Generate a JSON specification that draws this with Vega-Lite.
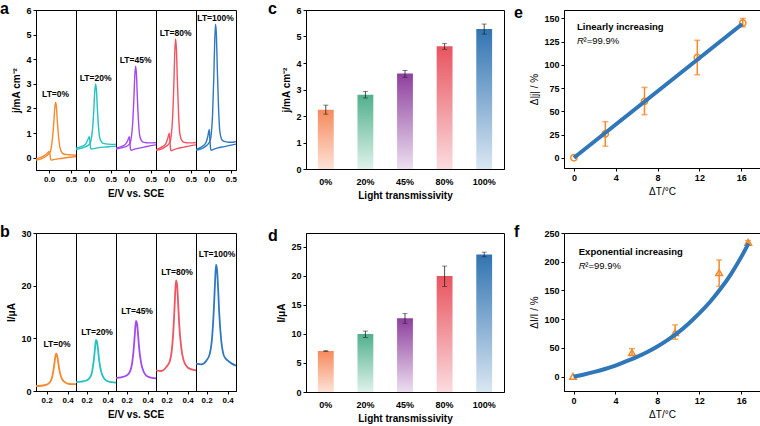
{
"$schema":"https://vega.github.io/schema/vega-lite/v6.json",
"padding":{"left":0,"top":0,"right":0,"bottom":0},
"background":"white",
"config":{
 "font":"Liberation Sans",
 "view":{"stroke":"black","strokeWidth":1},
 "axis":{"domainColor":"black","tickColor":"black","labelColor":"black","titleColor":"black","labelFontWeight":"bold","labelFontSize":9,"titleFontSize":10,"titleFontWeight":"bold","tickSize":3,"grid":false,"labelPadding":2,"titlePadding":4,"labelOverlap":false,"tickCount":30},
 "title":{"fontSize":16,"fontWeight":"bold","anchor":"start","frame":"group","color":"black","baseline":"alphabetic"}
},
"datasets":{
"a":[
{"p":1,"s":"u","x":-0.3,"y":-0.1},{"p":1,"s":"u","x":-0.18,"y":-0.05},{"p":1,"s":"u","x":-0.08,"y":0.05},{"p":1,"s":"u","x":-0.01,"y":0.15},{"p":1,"s":"u","x":0.03,"y":0.25},{"p":1,"s":"u","x":0.05,"y":0.4},{"p":1,"s":"u","x":0.08,"y":0.8},{"p":1,"s":"u","x":0.11,"y":1.45},{"p":1,"s":"u","x":0.13,"y":1.98},{"p":1,"s":"u","x":0.15,"y":2.25},{"p":1,"s":"u","x":0.17,"y":2.05},{"p":1,"s":"u","x":0.19,"y":1.5},{"p":1,"s":"u","x":0.22,"y":0.85},{"p":1,"s":"u","x":0.25,"y":0.42},{"p":1,"s":"u","x":0.3,"y":0.2},{"p":1,"s":"u","x":0.35,"y":0.14},{"p":1,"s":"u","x":0.45,"y":0.12},{"p":1,"s":"u","x":0.55,"y":0.11},{"p":1,"s":"u","x":0.62,"y":0.1},
{"p":1,"s":"l","x":-0.3,"y":-0.05},{"p":1,"s":"l","x":-0.18,"y":0.02},{"p":1,"s":"l","x":-0.08,"y":0.12},{"p":1,"s":"l","x":-0.03,"y":0.2},{"p":1,"s":"l","x":0.005,"y":0.25},{"p":1,"s":"l","x":0.02,"y":0.15},{"p":1,"s":"l","x":0.035,"y":-0.05},{"p":1,"s":"l","x":0.05,"y":-0.1},{"p":1,"s":"l","x":0.1,"y":-0.08},{"p":1,"s":"l","x":0.2,"y":-0.05},{"p":1,"s":"l","x":0.35,"y":-0.01},{"p":1,"s":"l","x":0.48,"y":0.02},{"p":1,"s":"l","x":0.62,"y":0.05},
{"p":2,"s":"u","x":-0.3,"y":0.33},{"p":2,"s":"u","x":-0.18,"y":0.38},{"p":2,"s":"u","x":-0.08,"y":0.45},{"p":2,"s":"u","x":-0.01,"y":0.52},{"p":2,"s":"u","x":0.03,"y":0.6},{"p":2,"s":"u","x":0.05,"y":0.75},{"p":2,"s":"u","x":0.08,"y":1.15},{"p":2,"s":"u","x":0.11,"y":1.95},{"p":2,"s":"u","x":0.13,"y":2.65},{"p":2,"s":"u","x":0.15,"y":3.0},{"p":2,"s":"u","x":0.17,"y":2.75},{"p":2,"s":"u","x":0.19,"y":2.05},{"p":2,"s":"u","x":0.22,"y":1.2},{"p":2,"s":"u","x":0.25,"y":0.78},{"p":2,"s":"u","x":0.3,"y":0.62},{"p":2,"s":"u","x":0.35,"y":0.57},{"p":2,"s":"u","x":0.45,"y":0.55},{"p":2,"s":"u","x":0.55,"y":0.54},{"p":2,"s":"u","x":0.62,"y":0.55},
{"p":2,"s":"l","x":-0.3,"y":0.38},{"p":2,"s":"l","x":-0.18,"y":0.45},{"p":2,"s":"l","x":-0.08,"y":0.55},{"p":2,"s":"l","x":-0.03,"y":0.72},{"p":2,"s":"l","x":0.005,"y":0.85},{"p":2,"s":"l","x":0.02,"y":0.65},{"p":2,"s":"l","x":0.035,"y":0.4},{"p":2,"s":"l","x":0.05,"y":0.35},{"p":2,"s":"l","x":0.1,"y":0.37},{"p":2,"s":"l","x":0.2,"y":0.4},{"p":2,"s":"l","x":0.35,"y":0.43},{"p":2,"s":"l","x":0.48,"y":0.45},{"p":2,"s":"l","x":0.62,"y":0.47},
{"p":3,"s":"u","x":-0.3,"y":0.35},{"p":3,"s":"u","x":-0.18,"y":0.4},{"p":3,"s":"u","x":-0.08,"y":0.45},{"p":3,"s":"u","x":-0.01,"y":0.52},{"p":3,"s":"u","x":0.03,"y":0.62},{"p":3,"s":"u","x":0.05,"y":0.8},{"p":3,"s":"u","x":0.08,"y":1.3},{"p":3,"s":"u","x":0.11,"y":2.35},{"p":3,"s":"u","x":0.13,"y":3.25},{"p":3,"s":"u","x":0.15,"y":3.72},{"p":3,"s":"u","x":0.17,"y":3.4},{"p":3,"s":"u","x":0.19,"y":2.5},{"p":3,"s":"u","x":0.22,"y":1.4},{"p":3,"s":"u","x":0.25,"y":0.85},{"p":3,"s":"u","x":0.3,"y":0.66},{"p":3,"s":"u","x":0.35,"y":0.62},{"p":3,"s":"u","x":0.45,"y":0.6},{"p":3,"s":"u","x":0.55,"y":0.6},{"p":3,"s":"u","x":0.62,"y":0.62},
{"p":3,"s":"l","x":-0.3,"y":0.38},{"p":3,"s":"l","x":-0.18,"y":0.45},{"p":3,"s":"l","x":-0.08,"y":0.55},{"p":3,"s":"l","x":-0.03,"y":0.7},{"p":3,"s":"l","x":0.005,"y":0.85},{"p":3,"s":"l","x":0.02,"y":0.6},{"p":3,"s":"l","x":0.035,"y":0.35},{"p":3,"s":"l","x":0.05,"y":0.3},{"p":3,"s":"l","x":0.1,"y":0.33},{"p":3,"s":"l","x":0.2,"y":0.38},{"p":3,"s":"l","x":0.35,"y":0.43},{"p":3,"s":"l","x":0.48,"y":0.48},{"p":3,"s":"l","x":0.62,"y":0.52},
{"p":4,"s":"u","x":-0.3,"y":0.3},{"p":4,"s":"u","x":-0.18,"y":0.35},{"p":4,"s":"u","x":-0.08,"y":0.45},{"p":4,"s":"u","x":-0.01,"y":0.55},{"p":4,"s":"u","x":0.03,"y":0.68},{"p":4,"s":"u","x":0.05,"y":0.9},{"p":4,"s":"u","x":0.08,"y":1.55},{"p":4,"s":"u","x":0.11,"y":2.95},{"p":4,"s":"u","x":0.13,"y":4.2},{"p":4,"s":"u","x":0.15,"y":4.82},{"p":4,"s":"u","x":0.17,"y":4.4},{"p":4,"s":"u","x":0.19,"y":3.2},{"p":4,"s":"u","x":0.22,"y":1.75},{"p":4,"s":"u","x":0.25,"y":0.95},{"p":4,"s":"u","x":0.3,"y":0.68},{"p":4,"s":"u","x":0.35,"y":0.62},{"p":4,"s":"u","x":0.45,"y":0.6},{"p":4,"s":"u","x":0.55,"y":0.6},{"p":4,"s":"u","x":0.62,"y":0.62},
{"p":4,"s":"l","x":-0.3,"y":0.32},{"p":4,"s":"l","x":-0.18,"y":0.42},{"p":4,"s":"l","x":-0.08,"y":0.55},{"p":4,"s":"l","x":-0.03,"y":0.78},{"p":4,"s":"l","x":0.005,"y":1.0},{"p":4,"s":"l","x":0.02,"y":0.7},{"p":4,"s":"l","x":0.035,"y":0.35},{"p":4,"s":"l","x":0.05,"y":0.28},{"p":4,"s":"l","x":0.1,"y":0.32},{"p":4,"s":"l","x":0.2,"y":0.38},{"p":4,"s":"l","x":0.35,"y":0.43},{"p":4,"s":"l","x":0.48,"y":0.48},{"p":4,"s":"l","x":0.62,"y":0.52},
{"p":5,"s":"u","x":-0.3,"y":0.3},{"p":5,"s":"u","x":-0.18,"y":0.36},{"p":5,"s":"u","x":-0.08,"y":0.46},{"p":5,"s":"u","x":-0.01,"y":0.58},{"p":5,"s":"u","x":0.03,"y":0.72},{"p":5,"s":"u","x":0.05,"y":0.95},{"p":5,"s":"u","x":0.08,"y":1.7},{"p":5,"s":"u","x":0.11,"y":3.3},{"p":5,"s":"u","x":0.13,"y":4.7},{"p":5,"s":"u","x":0.15,"y":5.42},{"p":5,"s":"u","x":0.17,"y":4.95},{"p":5,"s":"u","x":0.19,"y":3.6},{"p":5,"s":"u","x":0.22,"y":1.95},{"p":5,"s":"u","x":0.25,"y":1.05},{"p":5,"s":"u","x":0.3,"y":0.72},{"p":5,"s":"u","x":0.35,"y":0.66},{"p":5,"s":"u","x":0.45,"y":0.63},{"p":5,"s":"u","x":0.55,"y":0.63},{"p":5,"s":"u","x":0.62,"y":0.66},
{"p":5,"s":"l","x":-0.3,"y":0.33},{"p":5,"s":"l","x":-0.18,"y":0.43},{"p":5,"s":"l","x":-0.08,"y":0.58},{"p":5,"s":"l","x":-0.03,"y":0.85},{"p":5,"s":"l","x":0.005,"y":1.15},{"p":5,"s":"l","x":0.02,"y":0.75},{"p":5,"s":"l","x":0.035,"y":0.38},{"p":5,"s":"l","x":0.05,"y":0.3},{"p":5,"s":"l","x":0.1,"y":0.34},{"p":5,"s":"l","x":0.2,"y":0.4},{"p":5,"s":"l","x":0.35,"y":0.45},{"p":5,"s":"l","x":0.48,"y":0.5},{"p":5,"s":"l","x":0.62,"y":0.55},
{"p":1,"lab":"LT=0%","x":0.15,"y":2.6},{"p":2,"lab":"LT=20%","x":0.15,"y":3.25},{"p":3,"lab":"LT=45%","x":0.15,"y":3.95},{"p":4,"lab":"LT=80%","x":0.15,"y":5.05},{"p":5,"lab":"LT=100%","x":0.15,"y":5.68}
],
"b":[
{"p":1,"s":"u","x":0.1,"y":0.95},{"p":1,"s":"u","x":0.15,"y":1.0},{"p":1,"s":"u","x":0.2,"y":1.2},{"p":1,"s":"u","x":0.23,"y":1.6},{"p":1,"s":"u","x":0.25,"y":2.4},{"p":1,"s":"u","x":0.27,"y":4.5},{"p":1,"s":"u","x":0.28,"y":6.0},{"p":1,"s":"u","x":0.29,"y":7.1},{"p":1,"s":"u","x":0.3,"y":6.8},{"p":1,"s":"u","x":0.31,"y":5.6},{"p":1,"s":"u","x":0.32,"y":4.2},{"p":1,"s":"u","x":0.34,"y":2.6},{"p":1,"s":"u","x":0.36,"y":1.9},{"p":1,"s":"u","x":0.38,"y":1.6},{"p":1,"s":"u","x":0.4,"y":1.4},{"p":1,"s":"u","x":0.44,"y":1.3},{"p":1,"s":"u","x":0.48,"y":1.3},
{"p":2,"s":"u","x":0.1,"y":1.7},{"p":2,"s":"u","x":0.15,"y":1.78},{"p":2,"s":"u","x":0.2,"y":2.0},{"p":2,"s":"u","x":0.23,"y":2.5},{"p":2,"s":"u","x":0.25,"y":3.4},{"p":2,"s":"u","x":0.27,"y":6.0},{"p":2,"s":"u","x":0.28,"y":8.0},{"p":2,"s":"u","x":0.29,"y":9.7},{"p":2,"s":"u","x":0.3,"y":9.3},{"p":2,"s":"u","x":0.31,"y":7.7},{"p":2,"s":"u","x":0.32,"y":5.8},{"p":2,"s":"u","x":0.34,"y":3.6},{"p":2,"s":"u","x":0.36,"y":2.6},{"p":2,"s":"u","x":0.38,"y":2.1},{"p":2,"s":"u","x":0.4,"y":1.85},{"p":2,"s":"u","x":0.44,"y":1.68},{"p":2,"s":"u","x":0.48,"y":1.6},
{"p":3,"s":"u","x":0.1,"y":2.5},{"p":3,"s":"u","x":0.15,"y":2.6},{"p":3,"s":"u","x":0.2,"y":2.95},{"p":3,"s":"u","x":0.23,"y":3.6},{"p":3,"s":"u","x":0.25,"y":4.9},{"p":3,"s":"u","x":0.27,"y":8.4},{"p":3,"s":"u","x":0.28,"y":11.1},{"p":3,"s":"u","x":0.29,"y":13.3},{"p":3,"s":"u","x":0.3,"y":12.8},{"p":3,"s":"u","x":0.31,"y":10.6},{"p":3,"s":"u","x":0.32,"y":8.1},{"p":3,"s":"u","x":0.34,"y":5.2},{"p":3,"s":"u","x":0.36,"y":3.8},{"p":3,"s":"u","x":0.38,"y":3.1},{"p":3,"s":"u","x":0.4,"y":2.75},{"p":3,"s":"u","x":0.44,"y":2.5},{"p":3,"s":"u","x":0.48,"y":2.4},
{"p":4,"s":"u","x":0.1,"y":3.9},{"p":4,"s":"u","x":0.15,"y":3.8},{"p":4,"s":"u","x":0.2,"y":4.6},{"p":4,"s":"u","x":0.23,"y":5.6},{"p":4,"s":"u","x":0.25,"y":7.7},{"p":4,"s":"u","x":0.27,"y":13.3},{"p":4,"s":"u","x":0.28,"y":17.6},{"p":4,"s":"u","x":0.29,"y":21.0},{"p":4,"s":"u","x":0.3,"y":20.2},{"p":4,"s":"u","x":0.31,"y":16.8},{"p":4,"s":"u","x":0.32,"y":12.8},{"p":4,"s":"u","x":0.34,"y":8.2},{"p":4,"s":"u","x":0.36,"y":6.0},{"p":4,"s":"u","x":0.38,"y":5.0},{"p":4,"s":"u","x":0.4,"y":4.5},{"p":4,"s":"u","x":0.44,"y":4.1},{"p":4,"s":"u","x":0.48,"y":3.9},
{"p":5,"s":"u","x":0.1,"y":5.2},{"p":5,"s":"u","x":0.15,"y":5.05},{"p":5,"s":"u","x":0.2,"y":5.8},{"p":5,"s":"u","x":0.23,"y":7.0},{"p":5,"s":"u","x":0.25,"y":9.5},{"p":5,"s":"u","x":0.27,"y":15.7},{"p":5,"s":"u","x":0.28,"y":20.3},{"p":5,"s":"u","x":0.29,"y":24.0},{"p":5,"s":"u","x":0.3,"y":23.0},{"p":5,"s":"u","x":0.31,"y":19.5},{"p":5,"s":"u","x":0.32,"y":15.0},{"p":5,"s":"u","x":0.34,"y":9.5},{"p":5,"s":"u","x":0.36,"y":7.0},{"p":5,"s":"u","x":0.38,"y":6.2},{"p":5,"s":"u","x":0.4,"y":5.8},{"p":5,"s":"u","x":0.44,"y":5.2},{"p":5,"s":"u","x":0.48,"y":4.8},
{"p":1,"lab":"LT=0%","x":0.3,"y":8.9},{"p":2,"lab":"LT=20%","x":0.3,"y":11.2},{"p":3,"lab":"LT=45%","x":0.3,"y":15.2},{"p":4,"lab":"LT=80%","x":0.3,"y":22.6},{"p":5,"lab":"LT=100%","x":0.3,"y":26.0}
],
"c":[
{"lt":"0%","v":2.24,"lo":2.07,"hi":2.41},{"lt":"20%","v":2.8,"lo":2.68,"hi":2.93},{"lt":"45%","v":3.6,"lo":3.46,"hi":3.72},{"lt":"80%","v":4.63,"lo":4.52,"hi":4.73},{"lt":"100%","v":5.28,"lo":5.09,"hi":5.47}
],
"d":[
{"lt":"0%","v":7.07,"lo":7.0,"hi":7.12},{"lt":"20%","v":10.0,"lo":9.4,"hi":10.5},{"lt":"45%","v":12.7,"lo":11.84,"hi":13.5},{"lt":"80%","v":20.0,"lo":18.2,"hi":21.7},{"lt":"100%","v":23.7,"lo":23.3,"hi":24.1}
],
"e":[
{"x":0,"y":0,"lo":null,"hi":null},{"x":3.0,"y":25.7,"lo":12.5,"hi":38.9},{"x":6.75,"y":60.7,"lo":46.4,"hi":75.7},{"x":11.8,"y":107.9,"lo":89.3,"hi":126.4},{"x":16.15,"y":145,"lo":140.7,"hi":150}
],
"eline":[{"x":0,"y":0},{"x":16.1,"y":144}],
"f":[
{"x":-0.05,"y":0.5,"lo":null,"hi":null},{"x":5.58,"y":41.9,"lo":37,"hi":48.8},{"x":9.7,"y":76.7,"lo":65,"hi":90},{"x":13.9,"y":181,"lo":157,"hi":203},{"x":16.67,"y":233.7,"lo":232,"hi":236.6}
],
"fline":[{"x":0,"y":0},{"x":1,"y":3.8},{"x":2,"y":8.2},{"x":3,"y":13.3},{"x":4,"y":19.2},{"x":5,"y":26.5},{"x":6,"y":34},{"x":7,"y":42.5},{"x":8,"y":52.5},{"x":9,"y":64},{"x":10,"y":77},{"x":11,"y":92.5},{"x":12,"y":110},{"x":13,"y":129.5},{"x":14,"y":152},{"x":15,"y":177.7},{"x":16,"y":208},{"x":16.7,"y":231.7}]
},
"vconcat":[
{"hconcat":[
 {"data":{"name":"a"},
  "title":{"text":"a","dx":-36,"offset":-11},
  "facet":{"column":{"field":"p","type":"ordinal","title":"E/V vs. SCE","header":{"labels":false,"labelPadding":0,"titleOrient":"bottom","titleFontSize":10,"titleFontWeight":"bold","titleColor":"black","titlePadding":-4}}},
  "spacing":0,
  "bounds":"flush",
  "spec":{"width":40,"height":160,
   "layer":[
    {"transform":[{"filter":"datum.s != null"}],
     "mark":{"type":"line","strokeWidth":1.4,"interpolate":"monotone","clip":true},
     "encoding":{"x":{"field":"x","type":"quantitative","scale":{"domain":[-0.3,0.62],"nice":false,"zero":false},"axis":{"values":[0,0.5],"format":".1f","title":null,"labelFontSize":8}},
      "y":{"field":"y","type":"quantitative","scale":{"domain":[-0.5,6],"nice":false},"axis":{"values":[0,1,2,3,4,5,6],"format":"d","tickCount":30,"title":"j/mA cm⁻²"}},
      "color":{"field":"p","type":"nominal","scale":{"range":["#f7892c","#22c3c0","#a24af0","#ef5560","#2f78c1"]},"legend":null},
      "detail":{"field":"s"}}},
    {"transform":[{"filter":"datum.lab != null"}],
     "mark":{"type":"text","fontSize":8.5,"fontWeight":"bold","color":"black"},
     "encoding":{"x":{"field":"x","type":"quantitative"},"y":{"field":"y","type":"quantitative"},"text":{"field":"lab"}}}
   ]}},
 {"hconcat":[
 {"data":{"name":"c"},
  "title":{"text":"c","dx":-38,"offset":-11},
  "width":198,"height":159,
  "encoding":{"x":{"field":"lt","type":"nominal","sort":null,"scale":{"paddingInner":0,"paddingOuter":0},"axis":{"title":"Light transmissivity","labelAngle":0,"ticks":false,"labelPadding":8}}},
  "layer":[
   {"mark":{"type":"bar","width":{"band":0.4}},
    "encoding":{"y":{"field":"v","type":"quantitative","scale":{"domain":[0,6],"nice":false},"axis":{"title":"j/mA cm⁻²","values":[0,1,2,3,4,5,6],"format":"d","tickCount":30}},
     "fill":{"condition":[
      {"test":"datum.lt==='0%'","value":{"gradient":"linear","x1":0,"y1":1,"x2":0,"y2":0,"stops":[{"offset":0,"color":"#fde2d6"},{"offset":1,"color":"#f68a5c"}]}},
      {"test":"datum.lt==='20%'","value":{"gradient":"linear","x1":0,"y1":1,"x2":0,"y2":0,"stops":[{"offset":0,"color":"#e0f2eb"},{"offset":1,"color":"#4fb08c"}]}},
      {"test":"datum.lt==='45%'","value":{"gradient":"linear","x1":0,"y1":1,"x2":0,"y2":0,"stops":[{"offset":0,"color":"#eddff0"},{"offset":1,"color":"#8e3f9e"}]}},
      {"test":"datum.lt==='80%'","value":{"gradient":"linear","x1":0,"y1":1,"x2":0,"y2":0,"stops":[{"offset":0,"color":"#fbdcdf"},{"offset":1,"color":"#e8545f"}]}}
     ],"value":{"gradient":"linear","x1":0,"y1":1,"x2":0,"y2":0,"stops":[{"offset":0,"color":"#dae7f3"},{"offset":1,"color":"#3174b1"}]}}}},
   {"mark":{"type":"rule","strokeWidth":0.8,"color":"#222"},"encoding":{"y":{"field":"lo","type":"quantitative"},"y2":{"field":"hi"}}},
   {"mark":{"type":"tick","size":5,"thickness":0.8,"color":"#222"},"encoding":{"y":{"field":"lo","type":"quantitative"}}},
   {"mark":{"type":"tick","size":5,"thickness":0.8,"color":"#222"},"encoding":{"y":{"field":"hi","type":"quantitative"}}}
  ]},
 {"title":{"text":"e","dx":-50,"offset":-11},
  "width":196,"height":158,
  "layer":[
   {"data":{"name":"e"},"mark":{"type":"rule","color":"#f5892a","strokeWidth":1.5},
    "encoding":{"x":{"field":"x","type":"quantitative","scale":{"domain":[-0.95,17.8],"nice":false,"zero":false},"axis":{"values":[0,4,8,12,16],"format":"d","tickCount":30,"title":"ΔT/°C","titleFontWeight":"normal"}},
     "y":{"field":"lo","type":"quantitative","scale":{"domain":[-11,159],"nice":false},"axis":{"values":[0,25,50,75,100,125,150],"format":"d","tickCount":30,"title":"Δ|j| / %","titleFontWeight":"normal"}},"y2":{"field":"hi"}}},
   {"data":{"name":"e"},"mark":{"type":"tick","orient":"horizontal","size":6,"thickness":1.5,"color":"#f5892a"},"encoding":{"x":{"field":"x","type":"quantitative"},"y":{"field":"lo","type":"quantitative"}}},
   {"data":{"name":"e"},"mark":{"type":"tick","orient":"horizontal","size":6,"thickness":1.5,"color":"#f5892a"},"encoding":{"x":{"field":"x","type":"quantitative"},"y":{"field":"hi","type":"quantitative"}}},
   {"data":{"name":"e"},"mark":{"type":"point","shape":"circle","filled":false,"color":"#f5892a","strokeWidth":1.5,"size":40,"opacity":1},"encoding":{"x":{"field":"x","type":"quantitative"},"y":{"field":"y","type":"quantitative"}}},
   {"data":{"name":"eline"},"mark":{"type":"line","color":"#2f77b8","strokeWidth":4},"encoding":{"x":{"field":"x","type":"quantitative"},"y":{"field":"y","type":"quantitative"}}},
   {"data":{"values":[{"x":0.3,"y":141,"t":"Linearly increasing"}]},"mark":{"type":"text","align":"left","fontSize":9.5,"fontWeight":"bold","color":"black"},"encoding":{"x":{"field":"x","type":"quantitative"},"y":{"field":"y","type":"quantitative"},"text":{"field":"t"}}},
   {"data":{"values":[{"x":0.3,"y":126,"t":"R"}]},"mark":{"type":"text","align":"left","fontSize":9.5,"fontStyle":"italic","color":"black"},"encoding":{"x":{"field":"x","type":"quantitative"},"y":{"field":"y","type":"quantitative"},"text":{"field":"t"}}},
   {"data":{"values":[{"x":0.3,"y":126,"t":"²=99.9%"}]},"mark":{"type":"text","align":"left","fontSize":9.5,"dx":6.5,"color":"black"},"encoding":{"x":{"field":"x","type":"quantitative"},"y":{"field":"y","type":"quantitative"},"text":{"field":"t"}}}
  ]}
 ],"spacing":8}
],"spacing":30},
{"hconcat":[
 {"data":{"name":"b"},
  "title":{"text":"b","dx":-36,"offset":-11},
  "facet":{"column":{"field":"p","type":"ordinal","title":"E/V vs. SCE","header":{"labels":false,"labelPadding":0,"titleOrient":"bottom","titleFontSize":10,"titleFontWeight":"bold","titleColor":"black","titlePadding":-4}}},
  "spacing":0,
  "bounds":"flush",
  "spec":{"width":40,"height":158,
   "layer":[
    {"transform":[{"filter":"datum.s != null"}],
     "mark":{"type":"line","strokeWidth":1.8,"interpolate":"monotone","clip":true},
     "encoding":{"x":{"field":"x","type":"quantitative","scale":{"domain":[0.1,0.48],"nice":false,"zero":false},"axis":{"values":[0.2,0.4],"format":".1f","title":null,"labelFontSize":8}},
      "y":{"field":"y","type":"quantitative","scale":{"domain":[0,30],"nice":false},"axis":{"values":[0,10,20,30],"format":"d","tickCount":30,"title":"I/μA"}},
      "color":{"field":"p","type":"nominal","scale":{"range":["#f7892c","#22c3c0","#a24af0","#ef5560","#2f78c1"]},"legend":null},
      "detail":{"field":"s"}}},
    {"transform":[{"filter":"datum.lab != null"}],
     "mark":{"type":"text","fontSize":8.5,"fontWeight":"bold","color":"black"},
     "encoding":{"x":{"field":"x","type":"quantitative"},"y":{"field":"y","type":"quantitative"},"text":{"field":"lab"}}}
   ]}},
 {"hconcat":[
 {"data":{"name":"d"},
  "title":{"text":"d","dx":-38,"offset":-11},
  "width":198,"height":159,
  "encoding":{"x":{"field":"lt","type":"nominal","sort":null,"scale":{"paddingInner":0,"paddingOuter":0},"axis":{"title":"Light transmissivity","labelAngle":0,"ticks":false,"labelPadding":8}}},
  "layer":[
   {"mark":{"type":"bar","width":{"band":0.4}},
    "encoding":{"y":{"field":"v","type":"quantitative","scale":{"domain":[0,27.4],"nice":false},"axis":{"title":"I/μA","values":[0,5,10,15,20,25],"format":"d","tickCount":30}},
     "fill":{"condition":[
      {"test":"datum.lt==='0%'","value":{"gradient":"linear","x1":0,"y1":1,"x2":0,"y2":0,"stops":[{"offset":0,"color":"#fde2d6"},{"offset":1,"color":"#f68a5c"}]}},
      {"test":"datum.lt==='20%'","value":{"gradient":"linear","x1":0,"y1":1,"x2":0,"y2":0,"stops":[{"offset":0,"color":"#e0f2eb"},{"offset":1,"color":"#4fb08c"}]}},
      {"test":"datum.lt==='45%'","value":{"gradient":"linear","x1":0,"y1":1,"x2":0,"y2":0,"stops":[{"offset":0,"color":"#eddff0"},{"offset":1,"color":"#8e3f9e"}]}},
      {"test":"datum.lt==='80%'","value":{"gradient":"linear","x1":0,"y1":1,"x2":0,"y2":0,"stops":[{"offset":0,"color":"#fbdcdf"},{"offset":1,"color":"#e8545f"}]}}
     ],"value":{"gradient":"linear","x1":0,"y1":1,"x2":0,"y2":0,"stops":[{"offset":0,"color":"#dae7f3"},{"offset":1,"color":"#3174b1"}]}}}},
   {"mark":{"type":"rule","strokeWidth":0.8,"color":"#222"},"encoding":{"y":{"field":"lo","type":"quantitative"},"y2":{"field":"hi"}}},
   {"mark":{"type":"tick","size":5,"thickness":0.8,"color":"#222"},"encoding":{"y":{"field":"lo","type":"quantitative"}}},
   {"mark":{"type":"tick","size":5,"thickness":0.8,"color":"#222"},"encoding":{"y":{"field":"hi","type":"quantitative"}}}
  ]},
 {"title":{"text":"f","dx":-50,"offset":-11},
  "width":196,"height":158,
  "layer":[
   {"data":{"name":"f"},"mark":{"type":"rule","color":"#f5892a","strokeWidth":1.5},
    "encoding":{"x":{"field":"x","type":"quantitative","scale":{"domain":[-0.91,17.8],"nice":false,"zero":false},"axis":{"values":[0,4,8,12,16],"format":"d","tickCount":30,"title":"ΔT/°C","titleFontWeight":"normal"}},
     "y":{"field":"lo","type":"quantitative","scale":{"domain":[-25,250],"nice":false},"axis":{"values":[0,50,100,150,200,250],"format":"d","tickCount":30,"title":"ΔI/I / %","titleFontWeight":"normal"}},"y2":{"field":"hi"}}},
   {"data":{"name":"f"},"mark":{"type":"tick","orient":"horizontal","size":6,"thickness":1.5,"color":"#f5892a"},"encoding":{"x":{"field":"x","type":"quantitative"},"y":{"field":"lo","type":"quantitative"}}},
   {"data":{"name":"f"},"mark":{"type":"tick","orient":"horizontal","size":6,"thickness":1.5,"color":"#f5892a"},"encoding":{"x":{"field":"x","type":"quantitative"},"y":{"field":"hi","type":"quantitative"}}},
   {"data":{"name":"f"},"mark":{"type":"point","shape":"triangle-up","filled":false,"color":"#f5892a","strokeWidth":1.5,"size":45,"opacity":1},"encoding":{"x":{"field":"x","type":"quantitative"},"y":{"field":"y","type":"quantitative"}}},
   {"data":{"name":"fline"},"mark":{"type":"line","color":"#2f77b8","strokeWidth":4,"interpolate":"monotone"},"encoding":{"x":{"field":"x","type":"quantitative"},"y":{"field":"y","type":"quantitative"}}},
   {"data":{"values":[{"x":0.5,"y":217,"t":"Exponential increasing"}]},"mark":{"type":"text","align":"left","fontSize":9.5,"fontWeight":"bold","color":"black"},"encoding":{"x":{"field":"x","type":"quantitative"},"y":{"field":"y","type":"quantitative"},"text":{"field":"t"}}},
   {"data":{"values":[{"x":0.5,"y":193,"t":"R"}]},"mark":{"type":"text","align":"left","fontSize":9.5,"fontStyle":"italic","color":"black"},"encoding":{"x":{"field":"x","type":"quantitative"},"y":{"field":"y","type":"quantitative"},"text":{"field":"t"}}},
   {"data":{"values":[{"x":0.5,"y":193,"t":"²=99.9%"}]},"mark":{"type":"text","align":"left","fontSize":9.5,"dx":6.5,"color":"black"},"encoding":{"x":{"field":"x","type":"quantitative"},"y":{"field":"y","type":"quantitative"},"text":{"field":"t"}}}
  ]}
 ],"spacing":8}
],"spacing":30}
],
"spacing":22
}
